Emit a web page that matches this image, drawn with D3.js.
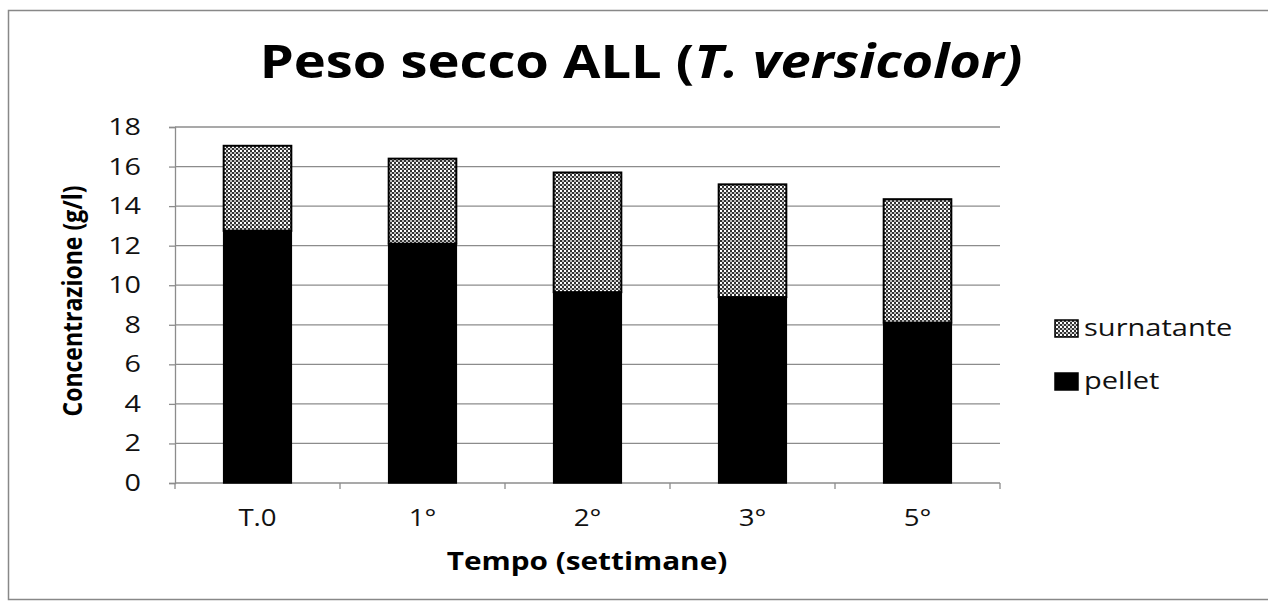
<!DOCTYPE html>
<html><head><meta charset="utf-8">
<script src="https://cdn.jsdelivr.net/npm/d3@7"></script>
<style>body{margin:0;background:#fff;}svg{display:block;}</style>
</head><body>
<svg id="c" width="1268" height="605"></svg>
<script>
const categories = ["T.0", "1°", "2°", "3°", "5°"];
const pellet = [12.75, 12.1, 9.65, 9.4, 8.1];
const surnatante = [4.3, 4.3, 6.05, 5.7, 6.25];
const yTicks = [0, 2, 4, 6, 8, 10, 12, 14, 16, 18];
const seriesNames = ["surnatante", "pellet"];

(function () {
const svg = d3.select("#c");
const font = "'Open Sans', 'DejaVu Sans', sans-serif";
const SX = 1.2; // horizontal stretch of the reference text

function stext(parent, x, y, str, size, opts) {
  opts = opts || {};
  const g = parent.append("g").attr("transform", `translate(${x},${y}) scale(${opts.sx || SX},1)` + (opts.rot ? ` rotate(${opts.rot})` : ""));
  return g.append("text").attr("text-anchor", opts.anchor || "start")
    .attr("font-family", font).attr("font-size", size)
    .attr("font-weight", opts.bold ? "bold" : "normal")
    .attr("fill", opts.fill || "#111").text(str);
}

// frame
svg.append("rect").attr("x", 8.5).attr("y", 10.5).attr("width", 1270).attr("height", 589)
  .attr("fill", "none").attr("stroke", "#888").attr("stroke-width", 1.5);

const defs = svg.append("defs");
const pat = defs.append("pattern").attr("id", "hatch").attr("patternUnits", "userSpaceOnUse")
  .attr("width", 4).attr("height", 4);
pat.append("rect").attr("width", 4).attr("height", 4).attr("fill", "#fff");
pat.append("rect").attr("x", 0).attr("y", 0).attr("width", 2).attr("height", 2).attr("fill", "#333");
pat.append("rect").attr("x", 2).attr("y", 2).attr("width", 2).attr("height", 2).attr("fill", "#333");
pat.append("rect").attr("x", 2).attr("y", 0).attr("width", 2).attr("height", 2).attr("fill", "#bbb");

const mLeft = 175, mRight = 1000, mTop = 127, mBottom = 483;
const x = d3.scaleBand().domain(categories).range([mLeft, mRight]).paddingInner(0.59).paddingOuter(0.295);
const y = d3.scaleLinear().domain([0, 18]).range([mBottom, mTop]);

// gridlines
svg.append("g").selectAll("line").data(yTicks.filter(d => d > 0)).join("line")
  .attr("x1", mLeft).attr("x2", mRight).attr("y1", d => y(d)).attr("y2", d => y(d))
  .attr("stroke", "#8c8c8c").attr("stroke-width", 1.3);

// y axis
const ya = svg.append("g").attr("transform", `translate(${mLeft},0)`)
  .call(d3.axisLeft(y).tickValues(yTicks).tickSize(6).tickFormat(""));
ya.select(".domain").attr("stroke", "#8c8c8c").attr("stroke-width", 1.3);
ya.selectAll(".tick line").attr("stroke", "#8c8c8c").attr("stroke-width", 1.3);
const yl = svg.append("g");
yTicks.forEach(v => stext(yl, 141, y(v) + 8, String(v), 23, { anchor: "end", sx: 1.25 }));

// x axis
const xb = d3.scaleLinear().domain([0, categories.length]).range([mLeft, mRight]);
const xa = svg.append("g").attr("transform", `translate(0,${mBottom})`);
xa.append("line").attr("x1", mLeft).attr("x2", mRight).attr("stroke", "#8c8c8c").attr("stroke-width", 1.3);
xa.selectAll("line.t").data(d3.range(categories.length + 1)).join("line").attr("class", "t")
  .attr("x1", d => xb(d)).attr("x2", d => xb(d)).attr("y1", 0).attr("y2", 6)
  .attr("stroke", "#8c8c8c").attr("stroke-width", 1.3);
const xl = svg.append("g");
categories.forEach(c => stext(xl, x(c) + x.bandwidth() / 2, 526, c, 23, { anchor: "middle" }));

// bars
const data = categories.map((c, i) => ({ c, p: pellet[i], s: surnatante[i] }));
const bars = svg.append("g");
bars.selectAll("rect.p").data(data).join("rect").attr("class", "p")
  .attr("x", d => x(d.c)).attr("width", x.bandwidth())
  .attr("y", d => y(d.p)).attr("height", d => y(0) - y(d.p))
  .attr("fill", "#000").attr("stroke", "#000").attr("stroke-width", 1.5);
bars.selectAll("rect.s").data(data).join("rect").attr("class", "s")
  .attr("x", d => x(d.c)).attr("width", x.bandwidth())
  .attr("y", d => y(d.p + d.s)).attr("height", d => y(d.p) - y(d.p + d.s))
  .attr("fill", "url(#hatch)").attr("stroke", "#000").attr("stroke-width", 2);

// title
const tg = svg.append("g").attr("transform", `translate(641,78) scale(1.18,1)`);
const t = tg.append("text").attr("text-anchor", "middle")
  .attr("font-family", font).attr("font-weight", "bold").attr("font-size", 46).attr("fill", "#000");
t.append("tspan").text("Peso secco ALL (");
t.append("tspan").attr("font-style", "italic").text("T. versicolor)");

// axis titles
stext(svg, 82, 301, "Concentrazione (g/l)", 23, { anchor: "middle", bold: true, rot: -90, fill: "#000" });
stext(svg, 587, 570, "Tempo (settimane)", 25, { anchor: "middle", bold: true, sx: 1.19, fill: "#000" });

// legend
const lg = svg.append("g");
const fills = { surnatante: "url(#hatch)", pellet: "#000" };
seriesNames.forEach((n, i) => {
  const yy = 320 + i * 53;
  lg.append("rect").attr("x", 1055).attr("y", yy).attr("width", 23).attr("height", 17)
    .attr("fill", fills[n]).attr("stroke", "#000").attr("stroke-width", 1.5);
  stext(lg, 1084, yy + 16, n, 24, { sx: 1.21 });
});
})();
</script>
</body></html>
